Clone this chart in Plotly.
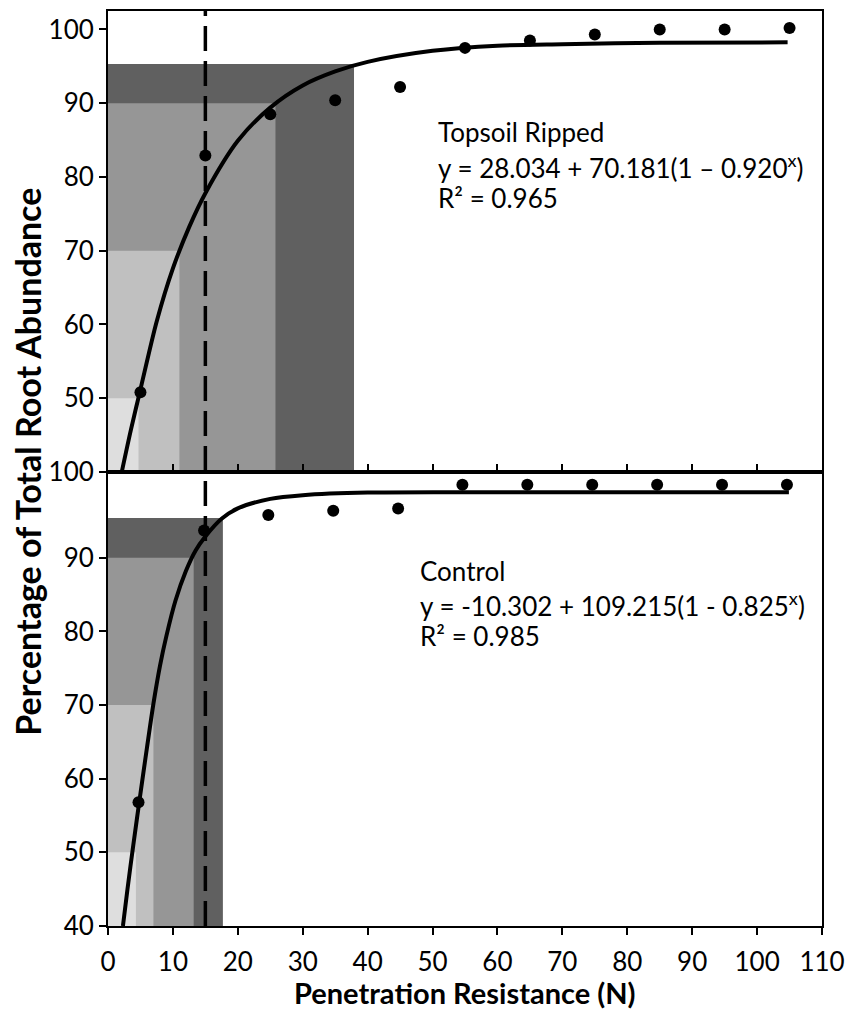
import plotly.graph_objects as go

# ---------------- data ----------------
ripped_x = [5, 15, 25, 35, 45, 55, 65, 75, 85, 95, 105]
ripped_y = [50.8, 82.9, 88.5, 90.4, 92.2, 97.5, 98.5, 99.3, 100.0, 100.0, 100.2]

control_x = [4.7, 14.8, 24.7, 34.7, 44.7, 54.6, 64.6, 74.6, 84.6, 94.6, 104.6]
control_y = [56.8, 93.7, 95.8, 96.4, 96.7, 99.9, 99.9, 99.9, 99.9, 99.9, 99.9]

# fitted curves
ripped_fit_x = [2.0, 3.5, 5, 7.5, 10, 12.5, 15, 20, 25, 30, 35, 40, 50, 60, 70, 85, 104.7]
ripped_fit_y = [39.5, 45.6, 51.2, 60.4, 67.6, 73.2, 77.8, 84.9, 89.4, 92.4, 94.3, 95.6, 97.1, 97.8, 98.0, 98.2, 98.25]

control_fit_x = [2.3, 3.0, 3.9, 5.0, 6.0, 7.0, 8.0, 9.0, 10.4, 12.0, 13.5, 15, 17.5, 20, 25, 30, 40, 55, 104.9]
control_fit_y = [40, 45, 51, 58, 64.2, 70.2, 75.3, 79.4, 84.2, 88.2, 91.0, 92.9, 95.3, 96.7, 98.0, 98.5, 98.85, 98.9, 98.9]

# shaded threshold boxes (x extent, upper y) : 50%, 70%, 90%, 95%
ripped_box_x = [4.7, 11.0, 25.8, 37.9]
ripped_box_y = [50, 70, 90, 95.3]
control_box_x = [4.3, 7.0, 13.2, 17.7]
control_box_y = [50, 70, 90, 95.4]
box_colors = ["#dedede", "#c0c0c0", "#969696", "#606060"]

threshold_x = 15

x_ticks = list(range(0, 111, 10))
top_ticks = [40, 50, 60, 70, 80, 90, 100]
top_ticktext = ["100", "50", "60", "70", "80", "90", "100"]
bot_ticks = [40, 50, 60, 70, 80, 90]
bot_ticktext = ["40", "50", "60", "70", "80", "90"]

ripped_lines = ["Topsoil Ripped",
                "y = 28.034 + 70.181(1 \u2013 0.920<sup>x</sup>)",
                "R\u00b2 = 0.965"]
control_lines = ["Control",
                 "y = -10.302 + 109.215(1 - 0.825<sup>x</sup>)",
                 "R\u00b2 = 0.985"]

y_title = "Percentage of Total Root Abundance"
x_title = "Penetration Resistance (N)"

# ---------------- figure ----------------
split = 0.4962
fig = go.Figure()

shapes = []
for i in reversed(range(4)):
    shapes.append(dict(type="rect", xref="x", yref="y", x0=0, x1=ripped_box_x[i],
                       y0=40, y1=ripped_box_y[i], fillcolor=box_colors[i],
                       line=dict(width=0), layer="below"))
    shapes.append(dict(type="rect", xref="x2", yref="y2", x0=0, x1=control_box_x[i],
                       y0=40, y1=control_box_y[i], fillcolor=box_colors[i],
                       line=dict(width=0), layer="below"))
shapes.append(dict(type="line", xref="x", yref="paper", x0=threshold_x, x1=threshold_x,
                   y0=0, y1=1, line=dict(color="black", width=3.5, dash="25px,10px")))

fig.add_trace(go.Scatter(x=ripped_fit_x, y=ripped_fit_y, mode="lines",
                         line=dict(color="black", width=4, shape="spline", smoothing=0.8),
                         xaxis="x", yaxis="y", showlegend=False))
fig.add_trace(go.Scatter(x=ripped_x, y=ripped_y, mode="markers",
                         marker=dict(color="black", size=12),
                         xaxis="x", yaxis="y", showlegend=False, cliponaxis=False))
fig.add_trace(go.Scatter(x=control_fit_x, y=control_fit_y, mode="lines",
                         line=dict(color="black", width=4, shape="spline", smoothing=0.8),
                         xaxis="x2", yaxis="y2", showlegend=False))
fig.add_trace(go.Scatter(x=control_x, y=control_y, mode="markers",
                         marker=dict(color="black", size=12),
                         xaxis="x2", yaxis="y2", showlegend=False, cliponaxis=False))

ann_font = dict(family="Lato, Open Sans, sans-serif", size=26, color="black")
annotations = []
for txt, yv in zip(ripped_lines, [86.1, 81.4, 77.1]):
    annotations.append(dict(text=txt, x=50.6, y=yv, xref="x", yref="y",
                            xanchor="left", yanchor="middle", showarrow=False, font=ann_font))
for txt, yv in zip(control_lines, [88.2, 83.6, 79.4]):
    annotations.append(dict(text=txt, x=47.7, y=yv, xref="x2", yref="y2",
                            xanchor="left", yanchor="middle", showarrow=False, font=ann_font))
annotations.append(dict(text="<b>" + y_title + "</b>", x=-0.113, y=0.5077, xref="paper",
                        yref="paper", textangle=-90, showarrow=False, xanchor="center",
                        yanchor="middle",
                        font=dict(family="Lato, sans-serif", size=34, color="black")))
annotations.append(dict(text="<b>" + x_title + "</b>", x=0.5, y=-0.073, xref="paper",
                        yref="paper", showarrow=False, xanchor="center", yanchor="middle",
                        font=dict(family="Lato, sans-serif", size=29, color="black")))

axis_common = dict(showline=True, linecolor="black", linewidth=2, mirror=True,
                   showgrid=False, zeroline=False, tickcolor="black", tickwidth=2)

# the page body adds an 8 px offset, so the figure is 8 px smaller than the window
fig.update_layout(
    width=845, height=1015,
    margin=dict(l=100, r=31, t=1, b=97),
    paper_bgcolor="white", plot_bgcolor="white",
    shapes=shapes, annotations=annotations,
    xaxis=dict(**axis_common, anchor="y", range=[0, 110], tickvals=x_ticks,
               ticks="inside", ticklen=8, showticklabels=False),
    yaxis=dict(**axis_common, domain=[split, 1], range=[40, 102.5], tickvals=top_ticks,
               ticktext=top_ticktext, ticks="outside", ticklen=7,
               tickfont=dict(family="Lato, sans-serif", size=26, color="black")),
    xaxis2=dict(**axis_common, anchor="y2", range=[0, 110], tickvals=x_ticks,
                ticks="outside", ticklen=7, ticklabelstandoff=5,
                tickfont=dict(family="Lato, sans-serif", size=26, color="black")),
    yaxis2=dict(**axis_common, domain=[0, split], range=[40, 101.65], tickvals=bot_ticks,
                ticktext=bot_ticktext, ticks="outside", ticklen=7,
                tickfont=dict(family="Lato, sans-serif", size=26, color="black")),
)

fig.write_html("out.html")
